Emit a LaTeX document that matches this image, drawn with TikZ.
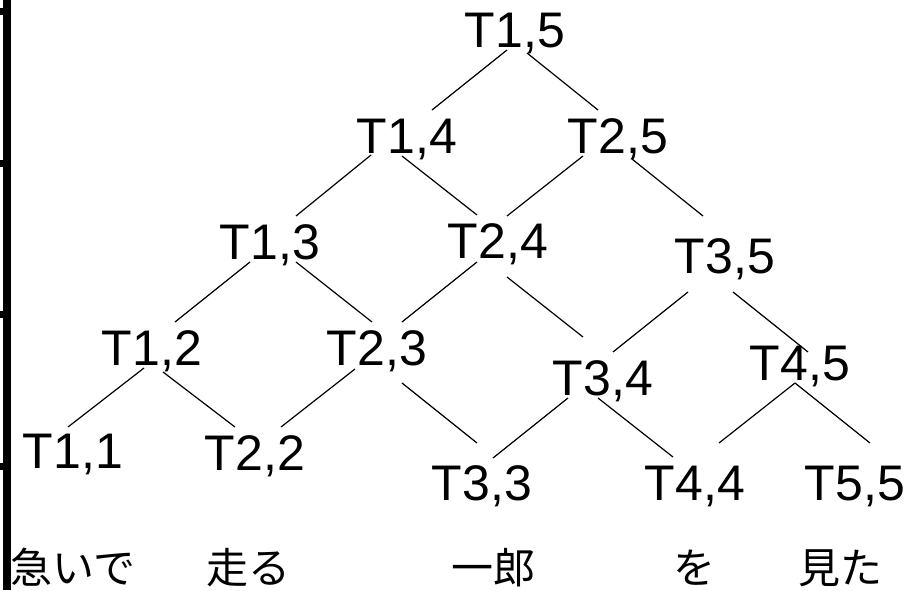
\documentclass[tikz,border=0pt]{standalone}
\usepackage{fontspec}
\setmainfont{Liberation Sans}
\newfontfamily\jpfont{Noto Sans CJK JP}
\usetikzlibrary{calc}

\begin{document}
\begin{tikzpicture}[
    x=1pt, y=-1pt,
    cell/.style={
      anchor=base, inner sep=0pt,
      font=\fontsize{50}{60}\selectfont
    },
    word/.style={
      anchor=base, inner sep=0pt,
      font=\jpfont\fontsize{42}{50}\selectfont
    },
    link/.style={line width=1.2pt, black}
  ]
  \useasboundingbox (0,0) rectangle (908,590);
  % left border
  \fill (3,0) rectangle (11,590);
  \foreach \ty in {8,160,311,463}
    \fill (0,\ty) rectangle (3,\ty+7);
  % cells -- top down
  \node[cell] (t15) at (515,47) {T1,5};
  \node[cell] (t14) at (407,153) {T1,4};
  \node[cell] (t25) at (618,153) {T2,5};
  \node[cell] (t13) at (270,259) {T1,3};
  \node[cell] (t24) at (498,258) {T2,4};
  \node[cell] (t35) at (725,273) {T3,5};
  \node[cell] (t12) at (152,365) {T1,2};
  \node[cell] (t23) at (377,365) {T2,3};
  \node[cell] (t34) at (603,395) {T3,4};
  \node[cell] (t45) at (800,380) {T4,5};
  \node[cell] (t11) at (73,468) {T1,1};
  \node[cell] (t22) at (255,470) {T2,2};
  \node[cell] (t33) at (482,500) {T3,3};
  \node[cell] (t44) at (695,500) {T4,4};
  \node[cell] (t55) at (855,500) {T5,5};
  % words
  \node[word] (w1) at (73,583) {急いで};
  \node[word] (w2) at (248,583) {走る};
  \node[word] (w3) at (493,583) {一郎};
  \node[word] (w4) at (694,583) {を};
  \node[word] (w5) at (840,583) {見た};
  % links
  \draw[link] ($(t15.base)+(-8,3)$) -- ($(t14.base)+(25,-43)$);
  \draw[link] ($(t15.base)+(12,6)$) -- ($(t25.base)+(-20,-43)$);
  \draw[link] ($(t14.base)+(-36,2)$) -- ($(t13.base)+(26,-43)$);
  \draw[link] ($(t14.base)+(-5,3)$) -- ($(t24.base)+(-21,-43)$);
  \draw[link] ($(t25.base)+(-35,3)$) -- ($(t24.base)+(9,-42)$);
  \draw[link] ($(t25.base)+(14,6)$) -- ($(t35.base)+(-22,-57)$);
  \draw[link] ($(t13.base)+(-20,3)$) -- ($(t12.base)+(23,-43)$);
  \draw[link] ($(t13.base)+(26,3)$) -- ($(t23.base)+(-5,-43)$);
  \draw[link] ($(t24.base)+(-21,4)$) -- ($(t23.base)+(25,-43)$);
  \draw[link] ($(t24.base)+(9,19)$) -- ($(t34.base)+(-20,-58)$);
  \draw[link] ($(t35.base)+(-37,19)$) -- ($(t34.base)+(10,-43)$);
  \draw[link] ($(t35.base)+(8,19)$) -- ($(t45.base)+(8,-28)$);
  \draw[link] ($(t12.base)+(-8,3)$) -- ($(t11.base)+(-5,-41)$);
  \draw[link] ($(t12.base)+(11,7)$) -- ($(t22.base)+(-20,-43)$);
  \draw[link] ($(t23.base)+(-22,4)$) -- ($(t22.base)+(26,-43)$);
  \draw[link] ($(t23.base)+(25,18)$) -- ($(t33.base)+(-5,-57)$);
  \draw[link] ($(t34.base)+(-35,3)$) -- ($(t33.base)+(11,-42)$);
  \draw[link] ($(t34.base)+(-5,3)$) -- ($(t44.base)+(-22,-43)$);
  \draw[link] ($(t45.base)+(-5,3)$) -- ($(t44.base)+(24,-57)$);
  \draw[link] ($(t45.base)+(-5,3)$) -- ($(t55.base)+(15,-57)$);
\end{tikzpicture}
\end{document}
